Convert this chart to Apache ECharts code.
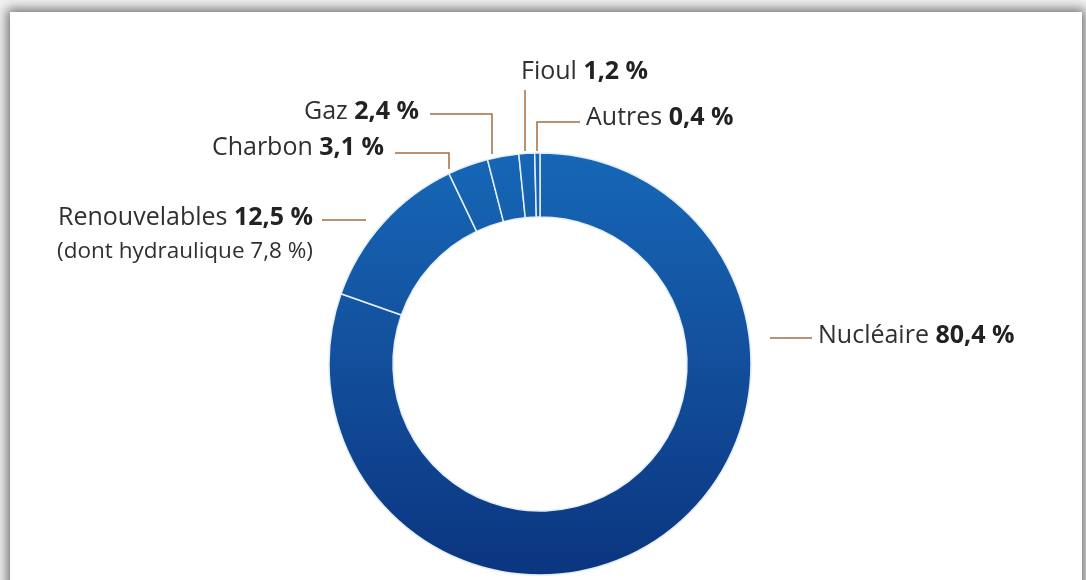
<!DOCTYPE html>
<html>
<head>
<meta charset="utf-8">
<script src="https://cdn.jsdelivr.net/npm/echarts@6/dist/echarts.min.js"></script>
<style>
  html, body { margin: 0; padding: 0; width: 1086px; height: 580px; overflow: hidden; background: #f2f2f2; }
  #card { position: absolute; left: 10px; top: 12px; width: 1072px; height: 590px; background: #fff;
          box-shadow: 0 0 11px 3px rgba(0,0,0,0.55); }
  #chart { position: absolute; left: 0; top: 0; width: 1086px; height: 580px; }
</style>
</head>
<body>
<div id="card"></div>
<div id="chart"></div>
<script>
// ---- data ----
const categories = ['Nucléaire', 'Renouvelables', 'Charbon', 'Gaz', 'Fioul', 'Autres'];
const shares = [80.4, 12.5, 3.1, 2.4, 1.2, 0.4];
const hydrauliqueShare = 7.8;

// ---- label layout (text anchor + leader line) ----
const labelLayouts = [
  { x: 818, y: 336, align: 'left',  line: [[770, 338], [812, 338]] },
  { x: 313, y: 235, align: 'right', line: [[322, 220], [366, 220]] },
  { x: 384, y: 148, align: 'right', line: [[395, 153], [449, 153], [449, 169]] },
  { x: 419, y: 112, align: 'right', line: [[430, 114], [492, 114], [492, 154]] },
  { x: 521, y: 72,  align: 'left',  line: [[525, 90], [525, 151]] },
  { x: 586, y: 118, align: 'left',  line: [[580, 122], [537, 122], [537, 151]] }
];

const fmt = v => v.toFixed(1).replace('.', ',') + ' %';

const chart = echarts.init(document.getElementById('chart'), null, { renderer: 'canvas' });

const ringGradient = new echarts.graphic.LinearGradient(0, 153, 0, 575, [
  { offset: 0, color: '#1667b7' },
  { offset: 0.45, color: '#13519e' },
  { offset: 1, color: '#0b3580' }
], true);

const FF = '"Open Sans", "Noto Sans", sans-serif';

chart.setOption({
  backgroundColor: 'transparent',
  animation: false,
  textStyle: { fontFamily: FF },
  series: [{
    type: 'pie',
    center: [540, 364],
    radius: [147, 211],
    startAngle: 90,
    clockwise: true,
    avoidLabelOverlap: false,
    silent: true,
    itemStyle: {
      color: ringGradient,
      borderColor: '#e4eef9',
      borderWidth: 1.5
    },
    label: {
      show: true,
      color: '#2b2b2b',
      fontFamily: FF,
      formatter: p => {
        let s = '{n|' + p.name + ' }{b|' + fmt(p.value) + '}';
        if (p.dataIndex === 1) s += '\n{s|(dont hydraulique ' + fmt(hydrauliqueShare) + ')}';
        return s;
      },
      rich: {
        n: { fontSize: 25, color: '#303030', fontFamily: FF, lineHeight: 34 },
        b: { fontSize: 25, fontWeight: 'bold', color: '#222', fontFamily: FF, lineHeight: 34 },
        s: { fontSize: 22.5, color: '#303030', fontFamily: FF, lineHeight: 34 }
      }
    },
    labelLine: {
      show: true,
      lineStyle: { color: '#a06e44', width: 1.5 }
    },
    labelLayout: function (params) {
      const L = labelLayouts[params.dataIndex];
      return {
        x: L.x,
        y: L.y,
        align: L.align,
        verticalAlign: 'middle',
        labelLinePoints: L.line
      };
    },
    data: categories.map((c, i) => ({ name: c, value: shares[i] }))
  }]
});
</script>
</body>
</html>
